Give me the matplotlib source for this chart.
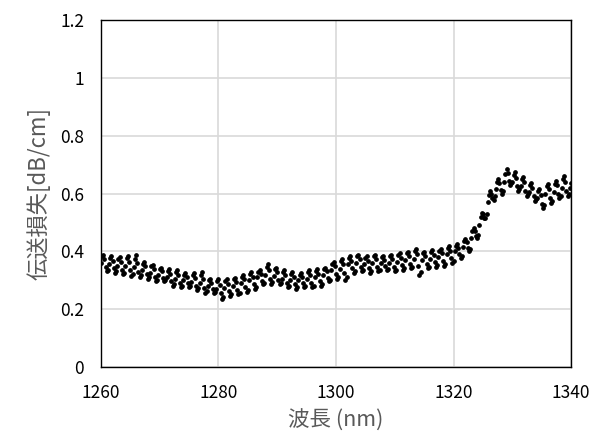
import numpy as np
import matplotlib
matplotlib.use("Agg")
import matplotlib.pyplot as plt
from matplotlib.ticker import FuncFormatter

plt.rcParams['font.family'] = ['Noto Sans CJK JP', 'DejaVu Sans']

# wavelength grid: 1260..1340 nm, 0.2 nm step
wl_start = 1260
wl_step = 0.2

# transmission loss [dB/cm], one row per 1.4 nm ripple
loss = [
    .360, .383, .389, .373, .347, .331, .337,
    .355, .378, .384, .368, .342, .326, .332,
    .350, .373, .379, .363, .337, .321, .327,
    .350, .377, .384, .365, .335, .316, .323,
    .345, .372, .389, .360, .330, .311, .318,
    .335, .358, .364, .348, .322, .306, .312,
    .325, .348, .354, .338, .312, .296, .302,
    .320, .340, .344, .331, .309, .296, .300,
    .310, .333, .339, .323, .297, .281, .287,
    .305, .328, .334, .318, .292, .276, .282,
    .300, .320, .324, .311, .289, .276, .280,
    .295, .318, .324, .308, .282, .266, .272,
    .290, .317, .330, .305, .275, .256, .263,
    .280, .300, .304, .291, .269, .256, .260,
    .270, .297, .304, .285, .255, .236, .243,
    .275, .298, .304, .288, .262, .246, .252,
    .280, .303, .309, .293, .267, .251, .257,
    .290, .313, .319, .303, .277, .261, .267,
    .300, .323, .329, .313, .287, .271, .277,
    .310, .330, .334, .321, .299, .286, .290,
    .320, .347, .357, .335, .305, .286, .293,
    .315, .338, .344, .328, .302, .286, .292,
    .305, .328, .334, .318, .292, .276, .282,
    .300, .323, .329, .313, .287, .271, .277,
    .300, .320, .324, .311, .289, .276, .280,
    .305, .328, .334, .318, .292, .276, .282,
    .310, .333, .339, .323, .297, .281, .287,
    .320, .340, .344, .331, .309, .296, .300,
    .335, .358, .364, .348, .322, .306, .312,
    .340, .367, .374, .355, .325, .302, .313,
    .355, .378, .384, .368, .342, .326, .332,
    .360, .383, .389, .373, .347, .331, .337,
    .355, .378, .384, .368, .342, .326, .332,
    .360, .383, .389, .373, .347, .331, .337,
    .360, .380, .384, .371, .349, .336, .340,
    .360, .383, .389, .373, .347, .331, .337,
    .365, .388, .394, .378, .352, .336, .342,
    .370, .393, .399, .383, .357, .341, .347,
    .375, .402, .410, .390, .350, .318, .330,
    .370, .393, .399, .383, .357, .341, .347,
    .375, .398, .404, .388, .362, .346, .352,
    .380, .403, .409, .393, .367, .351, .357,
    .390, .413, .419, .403, .377, .361, .367,
    .400, .420, .426, .413, .391, .378, .384,
    .415, .437, .443, .432, .412, .401, .408,
    .445, .470, .480, .471, .452, .445, .455,
    .490, .518, .532, .528, .515, .515, .530,
    .570, .595, .608, .600, .583, .577, .590,
    .615, .640, .650, .637, .612, .600, .610,
    .640, .668, .685, .672, .645, .628, .635,
    .640, .665, .673, .655, .625, .610, .617,
    .625, .650, .657, .640, .610, .593, .600,
    .605, .630, .638, .620, .590, .574, .580,
    .585, .610, .616, .595, .565, .550, .560,
    .600, .625, .632, .615, .585, .568, .575,
    .605, .632, .645, .630, .600, .583, .590,
    .620, .650, .660, .640, .610, .592, .600,
    .620, .635,
]
wavelength = wl_start + wl_step * np.arange(len(loss))

x_ticks = [1260, 1280, 1300, 1320, 1340]
y_ticks = [0, 0.2, 0.4, 0.6, 0.8, 1.0, 1.2]

fig = plt.figure(figsize=(6, 4.46), dpi=100)
ax = fig.add_axes([0.168, 0.177, 0.784, 0.778])

ax.plot(wavelength, loss, linestyle='none', marker='o', markersize=2.4,
        color='black', zorder=3)

ax.set_xlim(1260, 1340)
ax.set_ylim(0, 1.2)
ax.set_xticks(x_ticks)
ax.set_yticks(y_ticks)
ax.yaxis.set_major_formatter(FuncFormatter(lambda v, p: f"{v:g}"))

ax.grid(True, color='#d9d9d9', linewidth=1.2)
ax.set_axisbelow(True)
for s in ax.spines.values():
    s.set_color('black')
    s.set_linewidth(1.0)
ax.tick_params(length=0, pad=12, labelsize=12.5, labelcolor='black')

ax.set_xlabel('波長 (nm)', fontsize=15.5, color='#595959', labelpad=6)
ax.set_ylabel('伝送損失[dB/cm]', fontsize=16, color='#595959', labelpad=7)

fig.savefig('out.png', dpi=100)
